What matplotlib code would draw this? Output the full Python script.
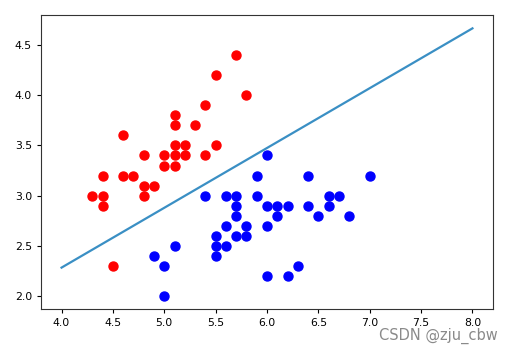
import matplotlib
matplotlib.use("Agg")
import matplotlib.pyplot as plt

# setosa (red) points: sepal length, sepal width
red_x = [5.7, 5.5, 5.8, 5.4, 5.1, 5.1, 5.3, 4.6, 5.1, 5.2, 5.5, 4.8, 5.0, 5.1,
         5.2, 5.4, 5.0, 5.1, 4.4, 4.6, 4.7, 4.8, 4.9, 4.3, 4.4, 4.8, 4.4, 4.5]
red_y = [4.4, 4.2, 4.0, 3.9, 3.8, 3.7, 3.7, 3.6, 3.5, 3.5, 3.5, 3.4, 3.4, 3.4,
         3.4, 3.4, 3.3, 3.3, 3.2, 3.2, 3.2, 3.1, 3.1, 3.0, 3.0, 3.0, 2.9, 2.3]

# versicolor (blue) points
blue_x = [6.0, 5.9, 6.4, 7.0, 5.4, 5.6, 5.7, 5.9, 6.6, 6.7, 5.7, 6.0, 6.1, 6.2,
          6.4, 6.6, 5.7, 6.1, 6.5, 6.8, 5.6, 5.8, 6.0, 5.5, 5.7, 5.8, 5.1, 5.5,
          5.6, 4.9, 5.5, 5.0, 6.3, 6.0, 6.2, 5.0]
blue_y = [3.4, 3.2, 3.2, 3.2, 3.0, 3.0, 3.0, 3.0, 3.0, 3.0, 2.9, 2.9, 2.9, 2.9,
          2.9, 2.9, 2.8, 2.8, 2.8, 2.8, 2.7, 2.7, 2.7, 2.6, 2.6, 2.6, 2.5, 2.5,
          2.5, 2.4, 2.4, 2.3, 2.3, 2.2, 2.2, 2.0]

# decision boundary
line_x = [4.0, 8.0]
line_y = [2.28, 4.67]

fig = plt.figure(figsize=(5.09, 3.54), dpi=100)
ax = fig.add_axes([41 / 509, 1 - 309 / 354, 452 / 509, 294 / 354])

ax.scatter(red_x, red_y, c="red", s=42)
ax.scatter(blue_x, blue_y, c="blue", s=42)
ax.plot(line_x, line_y, color="#3a8fc4", linewidth=1.6)

ax.tick_params(labelsize=7.8, length=3)
for sp in ax.spines.values():
    sp.set_color("#333333")

fig.text(0.977, 0.05, "CSDN @zju_cbw", ha="right", va="center",
         fontsize=10.5, color="#8a8a8a")

fig.savefig("out.png", dpi=100)
